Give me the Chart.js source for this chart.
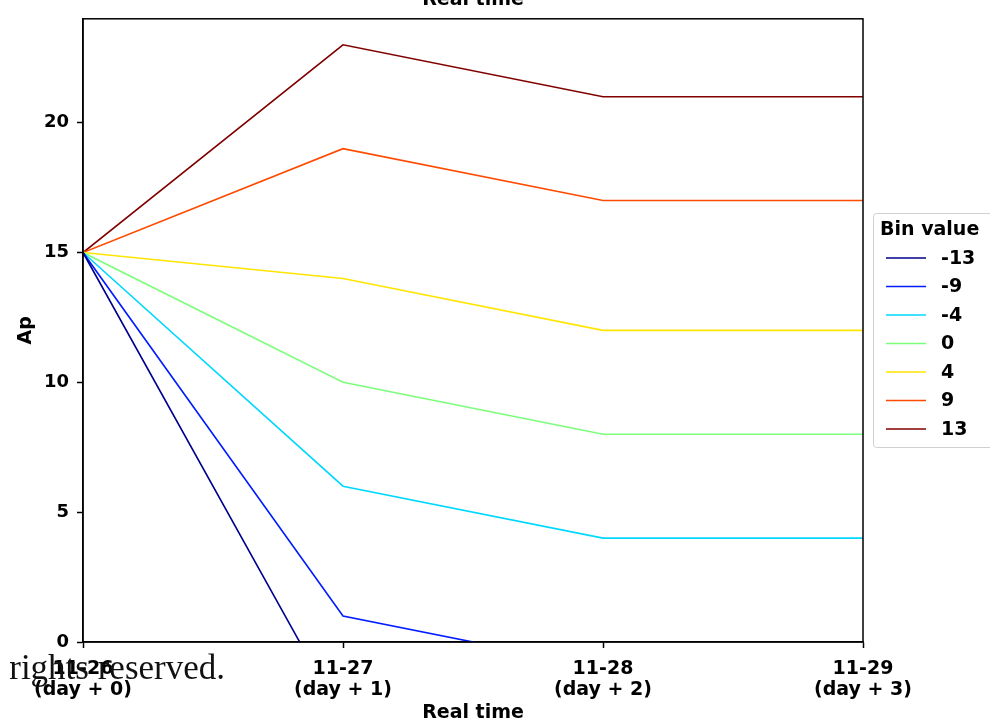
<!DOCTYPE html>
<html>
<head>
<meta charset="utf-8">
<script src="https://cdn.jsdelivr.net/npm/chart.js@4"></script>
<style>
  html, body { margin: 0; padding: 0; background: #fff; }
  #wrap { width: 990px; height: 724px; position: relative; }
</style>
</head>
<body>
<div id="wrap"><canvas id="chart" width="990" height="724"></canvas></div>
<script>
// days after the start date
var days = [0, 1, 2, 3];
var dayLabels = [['11-26', '(day + 0)'], ['11-27', '(day + 1)'], ['11-28', '(day + 2)'], ['11-29', '(day + 3)']];
var yTicks = [0, 5, 10, 15, 20];

var bins = ['-13', '-9', '-4', '0', '4', '9', '13'];
var binColors = ['#00008f', '#001cff', '#00d8ff', '#7cff7a', '#ffe500', '#ff4a00', '#800000'];

var apM13 = [15, -3, -5, -5];
var apM9 = [15, 1, -1, -1];
var apM4 = [15, 6, 4, 4];
var ap0 = [15, 10, 8, 8];
var ap4 = [15, 14, 12, 12];
var ap9 = [15, 19, 17, 17];
var ap13 = [15, 23, 21, 21];
var series = [apM13, apM9, apM4, ap0, ap4, ap9, ap13];

var FONT = 'DejaVu Sans';

var datasets = series.map(function (vals, i) {
    return {
        label: bins[i],
        data: vals.map(function (v, j) { return { x: days[j], y: v }; }),
        borderColor: binColors[i],
        backgroundColor: binColors[i],
        borderWidth: 1.6,
        pointRadius: 0,
        tension: 0,
        fill: false
    };
});

// frame, clipped title, legend box and the footer text
var extras = {
    id: 'extras',
    afterDraw: function (chart) {
        var ctx = chart.ctx;
        var a = chart.chartArea;
        ctx.save();
        ctx.strokeStyle = '#000';
        ctx.lineWidth = 1.5;
        ctx.strokeRect(a.left, a.top, a.right - a.left, a.bottom - a.top);

        ctx.fillStyle = '#000';
        ctx.font = 'bold 19px ' + FONT;
        ctx.textAlign = 'center';
        ctx.textBaseline = 'alphabetic';
        ctx.fillText('Real time', (a.left + a.right) / 2, 5);

        // legend
        var lx = 873, ly = 213, lw = 125, lh = 234;
        ctx.fillStyle = 'rgba(255,255,255,0.85)';
        ctx.strokeStyle = '#d0d0d0';
        ctx.lineWidth = 1;
        ctx.beginPath();
        ctx.roundRect(lx + 0.5, ly + 0.5, lw, lh, 3);
        ctx.fill();
        ctx.stroke();
        ctx.fillStyle = '#000';
        ctx.textAlign = 'left';
        ctx.textBaseline = 'middle';
        ctx.font = 'bold 19px ' + FONT;
        ctx.fillText('Bin value', 880, 230);
        bins.forEach(function (b, i) {
            var y = 258 + i * 28.5;
            ctx.strokeStyle = binColors[i];
            ctx.lineWidth = 1.6;
            ctx.beginPath();
            ctx.moveTo(886, y);
            ctx.lineTo(926, y);
            ctx.stroke();
            ctx.fillText(b, 941, y + 1);
        });

        ctx.font = '35px "Liberation Serif"';
        ctx.textAlign = 'right';
        ctx.textBaseline = 'alphabetic';
        ctx.fillStyle = '#111';
        ctx.fillText('All rights reserved.', 225, 679);
        ctx.restore();
    }
};

new Chart(document.getElementById('chart'), {
    type: 'line',
    data: { datasets: datasets },
    options: {
        responsive: false,
        animation: false,
        layout: { padding: { top: 18, right: 127, left: 0, bottom: 0 } },
        plugins: {
            legend: { display: false },
            tooltip: { enabled: false }
        },
        scales: {
            x: {
                type: 'linear',
                min: 0,
                max: 3,
                afterBuildTicks: function (axis) {
                    axis.ticks = days.map(function (d) { return { value: d }; });
                },
                afterFit: function (axis) { axis.height = 82; },
                grid: { drawOnChartArea: false, drawTicks: true, tickLength: 6, tickColor: '#000', tickWidth: 1.5 },
                border: { display: true, color: '#000', width: 1.5 },
                ticks: {
                    color: '#000',
                    padding: 11,
                    maxRotation: 0,
                    font: { family: FONT, size: 19, weight: 'bold', lineHeight: 1.1 },
                    callback: function (v) { return dayLabels[v]; }
                },
                title: {
                    display: true,
                    text: 'Real time',
                    color: '#000',
                    font: { family: FONT, size: 19, weight: 'bold', lineHeight: 1.2 },
                    padding: { top: 0, bottom: 0 }
                }
            },
            y: {
                min: 0,
                max: 24,
                afterBuildTicks: function (axis) {
                    axis.ticks = yTicks.map(function (v) { return { value: v }; });
                },
                afterFit: function (axis) { axis.width = 83; },
                grid: { drawOnChartArea: false, drawTicks: true, tickLength: 6, tickColor: '#000', tickWidth: 1.5 },
                border: { display: true, color: '#000', width: 1.5 },
                ticks: {
                    color: '#000',
                    padding: 8,
                    font: { family: FONT, size: 18, weight: 'bold' }
                },
                title: {
                    display: true,
                    text: 'Ap',
                    color: '#000',
                    font: { family: FONT, size: 19, weight: 'bold', lineHeight: 1.2 },
                    padding: { top: 15, bottom: 0 }
                }
            }
        }
    },
    plugins: [extras]
});
</script>
</body>
</html>
